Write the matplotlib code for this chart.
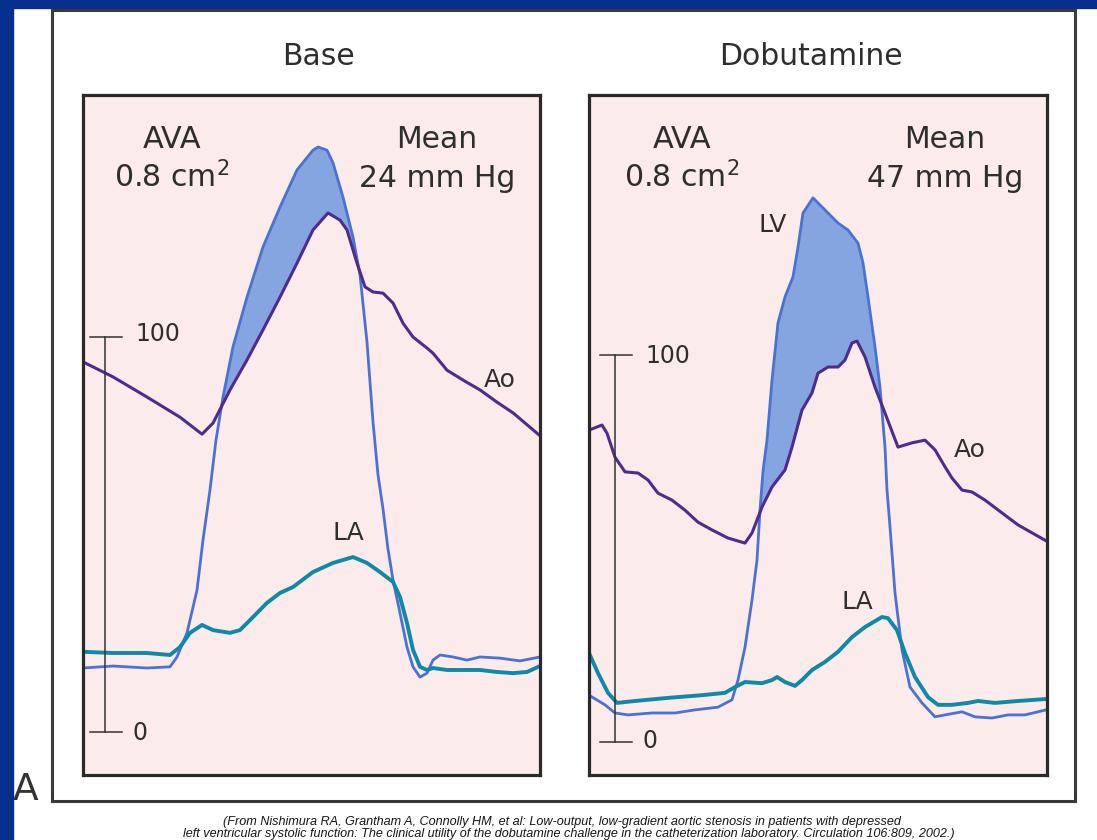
import numpy as np
import matplotlib
matplotlib.use("Agg")
import matplotlib.pyplot as plt
from matplotlib.patches import Rectangle

plt.rcParams['font.family'] = ['DejaVu Sans']
plt.rcParams['mathtext.fontset'] = 'dejavusans'

# ---------------- data (pressure in mm Hg, time in arbitrary units) ----------------
panel_titles = ["Base", "Dobutamine"]
ava_values = ["0.8 cm$^{2}$", "0.8 cm$^{2}$"]
mean_values = ["24 mm Hg", "47 mm Hg"]
scale_ticks = [0, 100]

base_ao_t = [0, 30, 64, 97, 119, 130, 147, 164, 180, 197, 214, 230, 245, 257, 264, 274, 282, 290,
             300, 310, 320, 330, 344, 350, 364, 380, 397, 414, 430, 457]
base_ao_p = [93.7, 89.9, 84.8, 79.7, 75.4, 78.2, 86.6, 94.2, 101.8, 110.1, 118.7, 127.1, 131.4, 129.6,
             127.1, 118.7, 112.7, 111.4, 111.1, 108.6, 103.5, 100.0, 97.2, 95.9, 91.6, 89.1, 86.6, 83.5,
             80.8, 75.0]

base_lv_t = [0, 30, 64, 87, 94, 104, 114, 120, 127, 133, 140, 150, 164, 180, 197, 214, 230, 235, 244,
             250, 260, 270, 277, 284, 290, 295, 300, 305, 310, 317, 324, 330, 337, 344, 350, 357, 370,
             384, 397, 417, 437, 457]
base_lv_p = [16.2, 16.7, 16.2, 16.5, 19.0, 25.1, 35.9, 48.6, 61.3, 73.9, 84.8, 97.5, 110.1, 122.8,
             132.9, 142.3, 147.3, 148.1, 147.3, 144.1, 135.4, 125.3, 115.7, 98.7, 78.5, 65.1, 56.5,
             46.3, 38.5, 30.1, 21.5, 16.5, 13.9, 14.9, 18.2, 19.5, 19.0, 18.2, 19.0, 18.7, 18.0, 19.0]

base_la_t = [0, 30, 64, 87, 97, 107, 119, 130, 147, 157, 170, 184, 197, 210, 230, 250, 270, 284, 297,
             310, 317, 324, 330, 337, 344, 350, 364, 380, 397, 414, 430, 444, 457]
base_la_p = [20.3, 20.0, 20.0, 19.5, 21.5, 25.1, 27.1, 25.8, 25.1, 25.8, 29.1, 32.7, 35.2, 36.7, 40.5,
             42.8, 44.3, 42.8, 40.5, 38.0, 34.2, 27.6, 20.8, 16.5, 15.7, 16.2, 15.7, 15.7, 15.7, 15.2,
             14.9, 15.2, 16.7]

dob_ao_t = [0, 13, 18, 26, 36, 49, 59, 69, 83, 96, 109, 123, 139, 156, 163, 173, 183, 196, 203, 213,
            223, 229, 239, 249, 256, 263, 268, 276, 286, 296, 309, 323, 336, 346, 356, 363, 373, 383,
            396, 413, 429, 457]
dob_ao_p = [80.6, 81.9, 79.8, 73.6, 69.8, 69.5, 67.7, 64.3, 62.5, 59.9, 56.8, 54.8, 52.7, 51.4, 54.0,
            60.7, 65.9, 70.3, 76.2, 85.8, 90.2, 95.3, 96.9, 96.9, 98.7, 103.1, 103.6, 99.5, 91.7, 85.0,
            76.2, 77.3, 78.0, 75.5, 71.1, 68.2, 65.1, 64.6, 62.5, 59.2, 56.1, 52.0]

dob_lv_t = [0, 16, 26, 39, 63, 86, 106, 129, 143, 149, 156, 163, 168, 171, 174, 178, 183, 189, 196,
            204, 209, 214, 224, 229, 239, 249, 259, 269, 274, 279, 286, 291, 296, 298, 301, 306, 313,
            321, 333, 346, 356, 373, 386, 403, 419, 436, 457]
dob_lv_p = [12.1, 9.6, 7.5, 7.0, 7.5, 7.5, 8.3, 9.0, 10.9, 16.0, 24.5, 36.7, 47.0, 59.9, 70.0, 78.0,
            93.5, 108.3, 115.0, 120.2, 127.9, 136.7, 140.6, 139.3, 136.7, 134.1, 132.3, 128.9, 123.8,
            115.0, 102.1, 91.7, 76.2, 65.1, 55.6, 38.5, 23.8, 14.2, 10.1, 6.5, 7.0, 7.8, 6.5, 6.2, 7.0,
            7.0, 8.3]

dob_la_t = [0, 9, 19, 28, 46, 79, 113, 136, 146, 156, 173, 183, 188, 196, 206, 213, 223, 236, 249,
            263, 276, 293, 299, 308, 316, 326, 339, 349, 363, 379, 389, 406, 429, 457]
dob_la_p = [23.0, 17.8, 12.7, 10.1, 10.6, 11.4, 12.1, 12.7, 14.2, 15.5, 15.2, 16.0, 16.8, 15.5, 14.5,
            16.0, 18.6, 20.7, 23.3, 27.1, 29.7, 32.3, 32.0, 28.9, 23.0, 16.8, 11.6, 9.6, 9.6, 10.1,
            10.6, 10.1, 10.6, 11.1]

caption_lines = [
    "(From Nishimura RA, Grantham A, Connolly HM, et al: Low-output, low-gradient aortic stenosis in patients with depressed",
    "left ventricular systolic function: The clinical utility of the dobutamine challenge in the catheterization laboratory. Circulation 106:809, 2002.)",
]

# ---------------- styling ----------------
W, H = 1097, 840
BLUE_BG = "#062f8e"
PINK = "#fbebea"
AO_C = "#4f2b8c"
LV_C = "#4a72d2"
FILL_C = "#85a5e0"
LA_C = "#1088a8"
TXT = "#2e2e2e"

fig = plt.figure(figsize=(W / 100, H / 100), dpi=100)
fig.patch.set_facecolor("white")


def fx(px):
    return px / W


def fy(py):
    return 1 - py / H


# slide background strips
fig.patches.append(Rectangle((0, 0), fx(13), 1, transform=fig.transFigure, color=BLUE_BG, zorder=0))
fig.patches.append(Rectangle((0, fy(8)), 1, 1 - fy(8), transform=fig.transFigure, color=BLUE_BG, zorder=0))
# outer frame
fig.patches.append(Rectangle((fx(52), fy(801)), fx(1075) - fx(52), fy(10) - fy(801),
                             transform=fig.transFigure, fill=False, edgecolor="#3a3a3a",
                             linewidth=2.2, zorder=1))

panels = [
    dict(left=83, right=540, zero_px=732, hundred_px=337, bar_t=22, tick_half=(15, 17),
         ao=(base_ao_t, base_ao_p), lv=(base_lv_t, base_lv_p), la=(base_la_t, base_la_p),
         title_x=318, ava_x=172, mean_x=437,
         labels=[("LA", 265, 48.6), ("Ao", 417, 87.3)],
         lab100=(52, 99.0), lab0=(50, -2.0)),
    dict(left=589, right=1047, zero_px=742, hundred_px=355, bar_t=26, tick_half=(15, 17),
         ao=(dob_ao_t, dob_ao_p), lv=(dob_lv_t, dob_lv_p), la=(dob_la_t, dob_la_p),
         title_x=811, ava_x=682, mean_x=945,
         labels=[("LV", 184, 131.8), ("Ao", 381, 73.6), ("LA", 268, 34.4)],
         lab100=(56, 97.9), lab0=(54, -1.6)),
]

top_px, bot_px = 95, 775
for i, pn in enumerate(panels):
    ax = fig.add_axes([fx(pn["left"]), fy(bot_px), fx(pn["right"]) - fx(pn["left"]),
                       fy(top_px) - fy(bot_px)])
    ax.set_facecolor(PINK)
    ppu = (pn["zero_px"] - pn["hundred_px"]) / 100.0
    ax.set_ylim((pn["zero_px"] - bot_px) / ppu, (pn["zero_px"] - top_px) / ppu)
    ax.set_xlim(0, pn["right"] - pn["left"])
    ax.set_xticks([])
    ax.set_yticks([])
    for s in ax.spines.values():
        s.set_linewidth(2.3)
        s.set_color("#2a2a2a")
        s.set_zorder(10)

    ao_t, ao_p = pn["ao"]
    lv_t, lv_p = pn["lv"]
    la_t, la_p = pn["la"]

    grid = np.linspace(0, pn["right"] - pn["left"], 2000)
    ao_i = np.interp(grid, ao_t, ao_p)
    lv_i = np.interp(grid, lv_t, lv_p)
    ax.fill_between(grid, ao_i, lv_i, where=lv_i > ao_i, interpolate=True,
                    color=FILL_C, linewidth=0, zorder=2)

    ax.plot(lv_t, lv_p, color=LV_C, lw=2.0, solid_joinstyle="round", solid_capstyle="round", zorder=3)
    ax.plot(ao_t, ao_p, color=AO_C, lw=2.2, solid_joinstyle="round", solid_capstyle="round", zorder=4)
    ax.plot(la_t, la_p, color=LA_C, lw=2.8, solid_joinstyle="round", solid_capstyle="round", zorder=5)

    # pressure scale bar
    bt = pn["bar_t"]
    ax.plot([bt, bt], scale_ticks, color="#333333", lw=1.1, zorder=6)
    for v in scale_ticks:
        ax.plot([bt - pn["tick_half"][0], bt + pn["tick_half"][1]], [v, v], color="#333333",
                lw=1.1, zorder=6)
    ax.text(pn["lab100"][0], pn["lab100"][1], str(scale_ticks[1]), fontsize=17, color=TXT,
            ha="left", va="baseline", zorder=7)
    ax.text(pn["lab0"][0], pn["lab0"][1], str(scale_ticks[0]), fontsize=17, color=TXT,
            ha="left", va="baseline", zorder=7)

    # curve labels
    for txt, tx, ty in pn["labels"]:
        ax.text(tx, ty, txt, fontsize=18, color=TXT, ha="center", va="baseline", zorder=7)

    # header text inside panel
    w = pn["right"] - pn["left"]
    hy1 = 1 - (148 - top_px) / (bot_px - top_px)
    hy2 = 1 - (187 - top_px) / (bot_px - top_px)
    ax.text((pn["ava_x"] - pn["left"]) / w, hy1, "AVA",
            transform=ax.transAxes, fontsize=22, color=TXT, ha="center", va="baseline")
    ax.text((pn["ava_x"] - pn["left"]) / w, hy2, ava_values[i],
            transform=ax.transAxes, fontsize=21.5, color=TXT, ha="center", va="baseline")
    ax.text((pn["mean_x"] - pn["left"]) / w, hy1, "Mean",
            transform=ax.transAxes, fontsize=21.5, color=TXT, ha="center", va="baseline")
    ax.text((pn["mean_x"] - pn["left"]) / w, hy2, mean_values[i],
            transform=ax.transAxes, fontsize=21.5, color=TXT, ha="center", va="baseline")

    fig.text(fx(pn["title_x"]), fy(65), panel_titles[i], fontsize=21.5, color=TXT,
             ha="center", va="baseline")

fig.text(fx(13), fy(800), "A", fontsize=27, color="#333333", ha="left", va="baseline")

fig.text(fx(562), fy(825), caption_lines[0], fontsize=9.1, style="italic", color="#151515",
         family="Liberation Sans", ha="center", va="baseline")
fig.text(fx(569), fy(837.5), caption_lines[1], fontsize=9.1, style="italic", color="#151515",
         family="Liberation Sans", ha="center", va="baseline")

fig.savefig("out.png", dpi=100, facecolor=fig.get_facecolor())
